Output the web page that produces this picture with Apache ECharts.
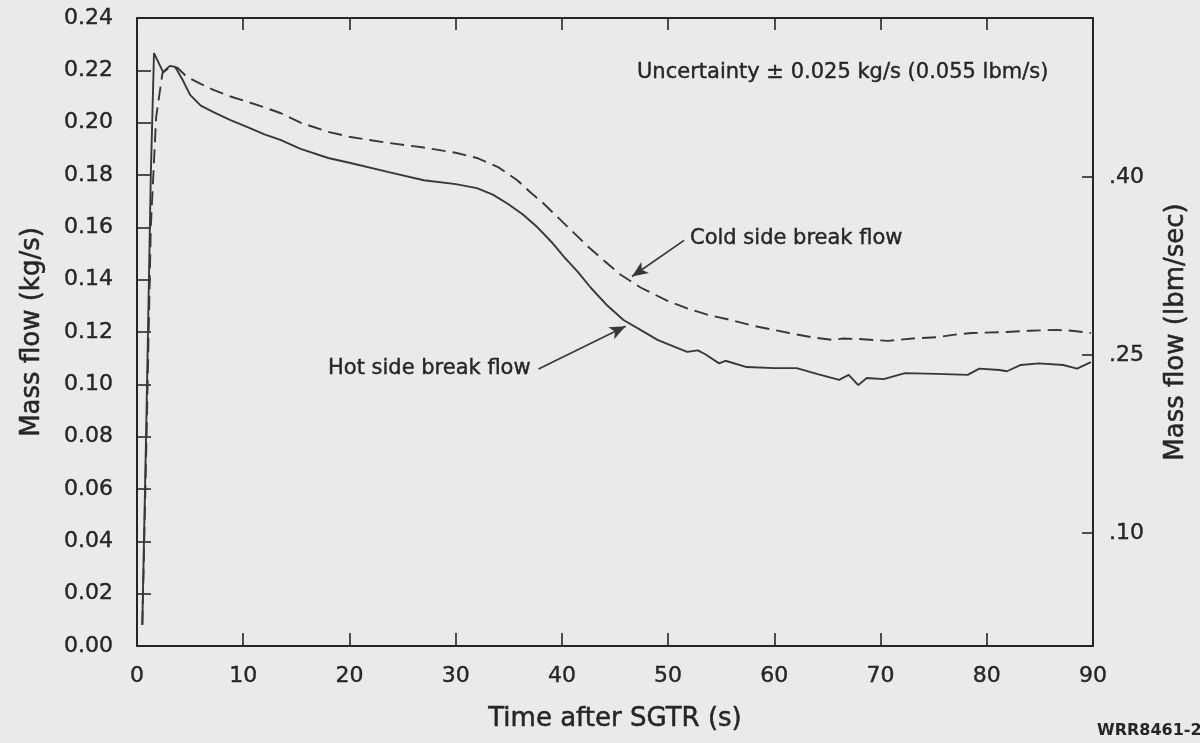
<!DOCTYPE html>
<html>
<head>
<meta charset="utf-8">
<script src="https://cdn.jsdelivr.net/npm/echarts@6/dist/echarts.min.js"></script>
<style>
html,body{margin:0;padding:0;background:#eaeaea;}
#chart{width:1200px;height:743px;}
</style>
</head>
<body>
<div id="chart"></div>
<script>
// Time (s), mass flow (kg/s)
var hotSide = [
  [0.5,0.008],[0.9,0.09],[1.3,0.18],[1.6,0.2266],[2.45,0.2194],[3.1,0.2217],[3.6,0.2213],
  [4.3,0.2163],[5.0,0.2106],[6.0,0.2065],[7.2,0.204],[8.8,0.201],[10.4,0.1983],[12,0.1955],
  [13.5,0.1934],[15.4,0.190],[18,0.1865],[20.1,0.1846],[23.8,0.181],[27,0.178],[30,0.1765],
  [32.0,0.175],[33.5,0.1725],[34.9,0.169],[36.3,0.165],[37.7,0.160],[39,0.1545],[40.2,0.1487],
  [41.5,0.143],[42.7,0.137],[44.3,0.130],[45.8,0.1246],[47.4,0.1208],[49,0.117],[50.5,0.1145],
  [51.8,0.1124],[52.8,0.113],[53.5,0.1115],[54.8,0.108],[55.4,0.109],[57.4,0.1066],[60,0.1062],
  [62.1,0.1062],[64,0.104],[66.1,0.1017],[67.0,0.1036],[67.9,0.0997],[68.7,0.1024],[70.3,0.102],
  [72.3,0.1043],[75.3,0.104],[78.2,0.1036],[79.3,0.106],[81.2,0.1055],[81.9,0.105],[83.2,0.1074],
  [84.9,0.108],[87.2,0.1074],[88.5,0.106],[89.8,0.1085]
];
var coldSide = [
  [0.5,0.008],[0.9,0.08],[1.3,0.16],[1.8,0.202],[2.4,0.219],[3.1,0.2213],[3.8,0.221],
  [4.7,0.2175],[6,0.2148],[7.2,0.2125],[8.8,0.210],[10.4,0.208],[12,0.2058],[13.5,0.2037],
  [15.4,0.200],[18,0.1965],[20.1,0.1945],[23.8,0.1922],[27,0.1905],[30,0.1885],[32.0,0.1865],
  [34,0.183],[35.8,0.178],[37,0.1735],[38.3,0.169],[39.7,0.1635],[41.1,0.158],[42.5,0.1525],
  [43.9,0.1475],[45.5,0.142],[47.4,0.137],[49.9,0.132],[51.8,0.129],[53.8,0.1265],[56,0.1245],
  [58.1,0.1223],[61.4,0.1196],[63.5,0.118],[65.4,0.117],[66.5,0.1175],[68.0,0.1173],[70.7,0.1166],
  [73,0.1175],[75.3,0.118],[77,0.119],[78.6,0.1196],[81.9,0.120],[84,0.1205],[86.5,0.1208],
  [88,0.1205],[89.8,0.1196]
];
var rightTicks = [0.10, 0.25, 0.40];   // lbm/s
var coldArrow = [[51.5,0.155],[46.6,0.1412]];
var hotArrow = [[37.8,0.1059],[46.0,0.1222]];

var INK = '#262626';
var FONT = 'DejaVu Sans';
var chart = echarts.init(document.getElementById('chart'), null, {renderer:'canvas'});

function axisCommon() {
  return {
    axisLine:{show:true, onZero:false, lineStyle:{color:INK, width:2}},
    splitLine:{show:false}
  };
}
function lbl(extra) {
  return Object.assign({fontSize:22, fontFamily:FONT, color:INK, textBorderColor:INK, textBorderWidth:0.4}, extra);
}
var nameStyle = {fontSize:26, fontFamily:FONT, color:INK, textBorderColor:INK, textBorderWidth:0.5};

var option = {
  backgroundColor:'#eaeaea',
  animation:false,
  grid:{left:137, right:107, top:18, bottom:97, containLabel:false},
  xAxis:[
    Object.assign(axisCommon(), {
      type:'value', position:'bottom', min:0, max:90, interval:10,
      axisTick:{show:true, inside:true, length:13, lineStyle:{color:INK, width:1.6}},
      axisLabel:lbl({margin:19}),
      name:'Time after SGTR (s)', nameLocation:'middle', nameGap:60,
      nameTextStyle:nameStyle
    }),
    Object.assign(axisCommon(), {
      type:'value', position:'top', min:0, max:90, interval:10,
      axisTick:{show:true, inside:true, length:12, lineStyle:{color:INK, width:1.6}},
      axisLabel:{show:false}
    })
  ],
  yAxis:[
    Object.assign(axisCommon(), {
      type:'value', position:'left', min:0, max:0.24, interval:0.02,
      axisTick:{show:true, inside:true, length:14, lineStyle:{color:INK, width:1.6}},
      axisLabel:lbl({margin:24, formatter:function(v){return v.toFixed(2);}}),
      name:'Mass flow (kg/s)', nameLocation:'middle', nameGap:92,
      nameTextStyle:nameStyle
    }),
    Object.assign(axisCommon(), {
      type:'value', position:'right', min:0.005, max:0.534,
      axisTick:{show:true, inside:true, length:11, customValues:rightTicks, lineStyle:{color:INK, width:1.6}},
      axisLabel:lbl({margin:16, customValues:rightTicks,
        formatter:function(v){return '.' + Math.round(v*100).toString().padStart(2,'0');}}),
      name:'Mass flow (lbm/sec)', nameLocation:'middle', nameGap:70,
      nameTextStyle:nameStyle
    })
  ],
  series:[
    {
      name:'Hot side break flow', type:'line', xAxisIndex:0, yAxisIndex:0,
      data:hotSide, showSymbol:false, smooth:false,
      lineStyle:{color:'#383838', width:1.9},
      markLine:{
        silent:true, symbol:['none','arrow'], symbolSize:[10,16],
        label:{show:false},
        lineStyle:{color:'#383838', width:1.7, type:'solid'},
        data:[[{coord:hotArrow[0]},{coord:hotArrow[1]}]]
      }
    },
    {
      name:'Cold side break flow', type:'line', xAxisIndex:0, yAxisIndex:0,
      data:coldSide, showSymbol:false, smooth:false,
      lineStyle:{color:'#383838', width:1.9, type:[14,7]},
      markLine:{
        silent:true, symbol:['none','arrow'], symbolSize:[10,16],
        label:{show:false},
        lineStyle:{color:'#383838', width:1.7, type:'solid'},
        data:[[{coord:coldArrow[0]},{coord:coldArrow[1]}]]
      }
    }
  ],
  graphic:[
    {type:'text', x:637, y:73, style:{text:'Uncertainty \u00b1 0.025 kg/s (0.055 lbm/s)', fontSize:21, fontFamily:FONT, fill:INK, stroke:INK, lineWidth:0.4, verticalAlign:'middle'}},
    {type:'text', x:690, y:239, style:{text:'Cold side break flow', fontSize:21, fontFamily:FONT, fill:INK, stroke:INK, lineWidth:0.4, verticalAlign:'middle'}},
    {type:'text', x:328, y:369, style:{text:'Hot side break flow', fontSize:21, fontFamily:FONT, fill:INK, stroke:INK, lineWidth:0.4, verticalAlign:'middle'}},
    {type:'text', x:1097, y:731, style:{text:'WRR8461-2', fontSize:16, fontWeight:'bold', fontFamily:FONT, fill:INK, verticalAlign:'middle'}}
  ]
};
chart.setOption(option);
</script>
</body>
</html>
